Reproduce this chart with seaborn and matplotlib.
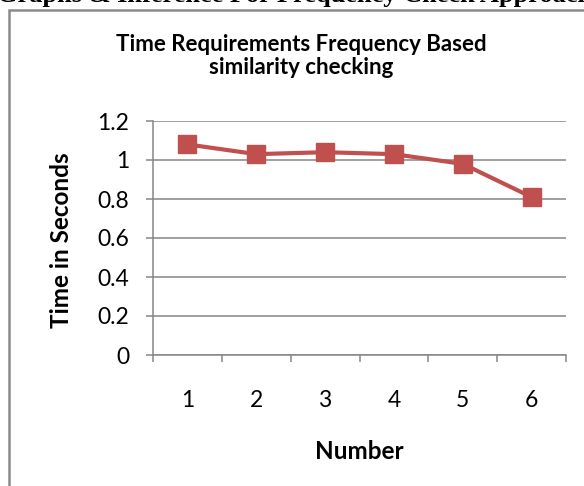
import matplotlib
matplotlib.use("Agg")
import matplotlib.pyplot as plt
import seaborn as sns
import pandas as pd
from matplotlib.patches import Rectangle
from matplotlib.ticker import FixedLocator, NullFormatter

numbers = [1, 2, 3, 4, 5, 6]
times = [1.08, 1.03, 1.04, 1.03, 0.98, 0.81]
y_ticks = [0, 0.2, 0.4, 0.6, 0.8, 1.0, 1.2]
y_tick_labels = ["0", "0.2", "0.4", "0.6", "0.8", "1", "1.2"]

sns.set_theme(style="white")
plt.rcParams['font.family'] = ['Lato', 'DejaVu Sans']

W, H = 584, 486
fig = plt.figure(figsize=(W / 100, H / 100), dpi=100)

# outer frame (gray) and page header
fig.patches.append(Rectangle((8.5 / W, -0.2), 1.3, 1.2 - 9.5 / H, transform=fig.transFigure,
                             fill=False, edgecolor="#8a8a8a", linewidth=1.8))
fig.text(-3 / W, 1 - 2 / H, "Graphs & Inference For Frequency Check Approach",
         ha="left", va="baseline", fontsize=19, fontweight="bold",
         family=["Liberation Serif"], color="black")

ax = fig.add_axes([153 / W, 1 - 355 / H, (566 - 153) / W, (355 - 121) / H])
ax.set_facecolor("none")

df = pd.DataFrame({"Number": numbers, "Time": times})
sns.lineplot(data=df, x="Number", y="Time", ax=ax, color="#C0504D", linewidth=3.0,
             marker="s", markersize=13, markeredgecolor="#C0504D", markeredgewidth=1)

ax.set_xlim(0.5, 6.5)
ax.set_ylim(0, 1.2)
ax.set_yticks(y_ticks)
ax.set_yticklabels(y_tick_labels)
ax.set_xticks(numbers)
ax.set_xticklabels([str(n) for n in numbers])
ax.xaxis.set_minor_locator(FixedLocator([0.5 + i for i in range(7)]))
ax.xaxis.set_minor_formatter(NullFormatter())

grid_c = "#868686"
ax.yaxis.grid(True, color=grid_c, linewidth=1.1)
ax.xaxis.grid(False)
ax.set_axisbelow(True)
for s in ["top", "right"]:
    ax.spines[s].set_visible(False)
for s in ["left", "bottom"]:
    ax.spines[s].set_color(grid_c)
    ax.spines[s].set_linewidth(1.1)

ax.tick_params(axis="y", which="major", length=5, width=1.1, color=grid_c,
               direction="out", left=True, pad=12, labelsize=16.5, labelcolor="black")
ax.tick_params(axis="x", which="major", length=0, pad=25, labelsize=16.5, labelcolor="black")
ax.tick_params(axis="x", which="minor", length=5, width=1.1, color=grid_c,
               direction="out", bottom=True)

ax.set_xlabel("Number", fontsize=17.5, fontweight="bold", color="black")
ax.set_ylabel("Time in Seconds", fontsize=17.5, fontweight="bold", color="black")
ax.xaxis.set_label_coords(0.5, (355 - 440) / 234)
ax.xaxis.label.set_va("top")
ax.yaxis.set_label_coords((73 - 153) / 413, 0.492)

fig.text(301 / W, 1 - 56 / H, "Time Requirements Frequency Based\nsimilarity checking",
         ha="center", va="center", fontsize=16, fontweight="bold", color="black",
         linespacing=1.15)

fig.savefig("out.png", dpi=100)
